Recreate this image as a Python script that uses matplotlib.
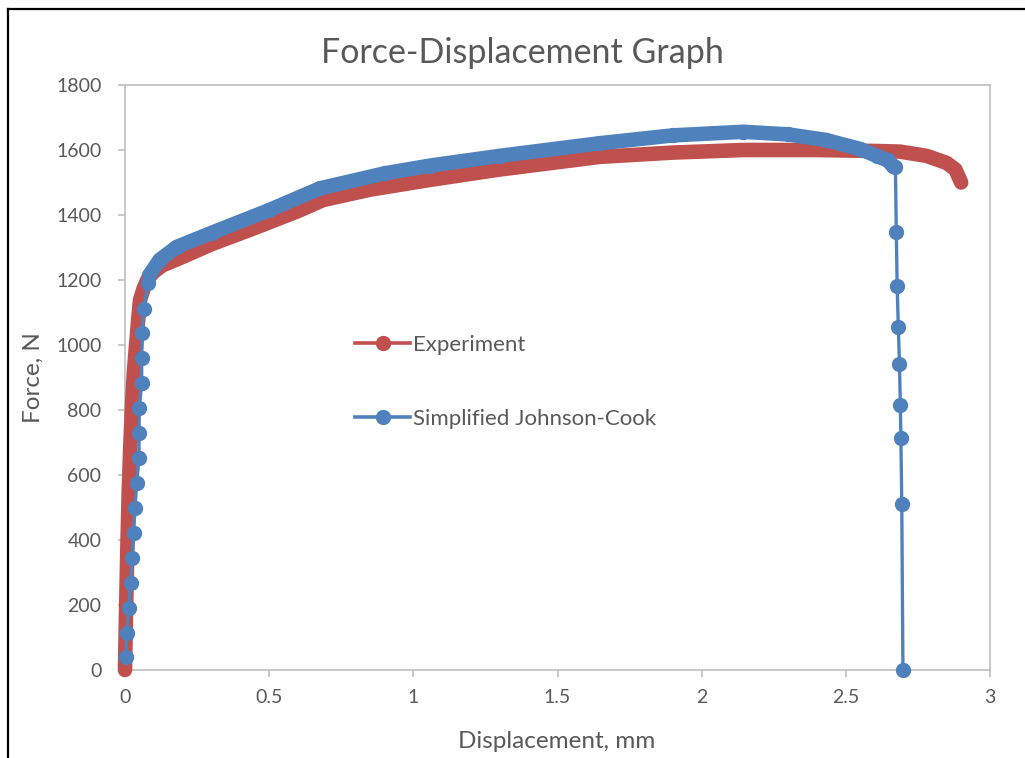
import matplotlib
matplotlib.use("Agg")
import matplotlib.pyplot as plt
from matplotlib.lines import Line2D

# ---- data ----
exp_x = [0, 0.003, 0.008, 0.013, 0.018, 0.025, 0.031, 0.037, 0.045, 0.052, 0.065, 0.08,
         0.1, 0.13, 0.2, 0.3, 0.45, 0.6, 0.687, 0.85, 1.058, 1.3, 1.648, 1.9, 2.144,
         2.4, 2.6, 2.688, 2.78, 2.85, 2.88, 2.9]
exp_y = [0, 150, 370, 550, 680, 830, 920, 985, 1070, 1138, 1175, 1205,
         1225, 1245, 1271, 1310, 1360, 1412, 1446, 1478, 1508, 1540, 1579, 1592, 1600,
         1600, 1597, 1595, 1582, 1560, 1540, 1500]

# Simplified Johnson-Cook: elastic part (sparse markers)
jc_el_x = [0.0035, 0.0058, 0.0139, 0.0197, 0.0243, 0.030, 0.0347, 0.0405, 0.0486,
           0.0486, 0.0497, 0.0578, 0.0578, 0.0601, 0.0647, 0.081, 0.0844]
jc_el_y = [40, 114, 191, 268, 345, 422, 498, 575, 652, 729, 806, 883, 960, 1037,
           1111, 1191, 1215]
# plastic part (dense markers -> thick band)
jc_pl_x = [0.0844, 0.12, 0.18, 0.3, 0.5, 0.676, 0.9, 1.058, 1.3, 1.648, 1.9, 2.144,
           2.3, 2.43, 2.55, 2.607, 2.645, 2.664]
jc_pl_y = [1215, 1262, 1302, 1345, 1415, 1482, 1528, 1552, 1582, 1621, 1645, 1656,
           1648, 1631, 1603, 1582, 1568, 1550]
# failure drop (sparse markers)
jc_dr_x = [2.672, 2.675, 2.678, 2.682, 2.686, 2.689, 2.691, 2.694, 2.698]
jc_dr_y = [1548, 1348, 1182, 1055, 942, 815, 714, 511, 0]

x_ticks = [0, 0.5, 1, 1.5, 2, 2.5, 3]
x_tick_labels = ["0", "0.5", "1", "1.5", "2", "2.5", "3"]
y_ticks = list(range(0, 1801, 200))

RED = "#C0504D"
BLUE = "#4F81BD"
TXT = "#595959"
AX = "#BFBFBF"
FONT = "Lato"

plt.rcParams['font.family'] = [FONT, 'DejaVu Sans']

fig = plt.figure(figsize=(10.25, 7.58), dpi=100)
W, H = 1025, 758
ax = fig.add_axes([125 / W, 1 - 670 / H, (990 - 125) / W, (670 - 85) / H])

# experiment: dense data -> thick band
ax.plot(exp_x, exp_y, color=RED, lw=10.5, solid_capstyle='round',
        solid_joinstyle='round', clip_on=False, zorder=3)

# JC full series with thin line + markers
jc_x = jc_el_x + jc_pl_x[1:] + jc_dr_x
jc_y = jc_el_y + jc_pl_y[1:] + jc_dr_y
ax.plot(jc_x, jc_y, color=BLUE, lw=2.4, marker='o', ms=10, mec=BLUE, mfc=BLUE,
        clip_on=False, zorder=4)
ax.plot(jc_pl_x + [jc_dr_x[0]], jc_pl_y + [jc_dr_y[0]], color=BLUE, lw=10.5,
        solid_capstyle='round', solid_joinstyle='round', zorder=4)

ax.set_xlim(0, 3)
ax.set_ylim(0, 1800)
ax.set_xticks(x_ticks)
ax.set_xticklabels(x_tick_labels)
ax.set_yticks(y_ticks)

for s in ax.spines.values():
    s.set_color(AX)
    s.set_linewidth(1.2)
ax.tick_params(axis='both', colors=AX, labelcolor=TXT, labelsize=14,
               direction='out', length=5, width=1.2)
ax.tick_params(axis='y', pad=12)
ax.tick_params(axis='x', pad=9)

fig.text(522 / W, 1 - 53 / H, "Force-Displacement Graph", fontsize=24.5,
         color=TXT, ha='center', va='center')
fig.text(557 / W, 1 - 742 / H, "Displacement, mm", fontsize=17.5, color=TXT,
         ha='center', va='center')
fig.text(33 / W, 1 - 378 / H, "Force, N", fontsize=17.5, color=TXT,
         ha='center', va='center', rotation=90)

handles = [Line2D([], [], color=RED, lw=2.6, marker='o', ms=10),
           Line2D([], [], color=BLUE, lw=2.6, marker='o', ms=10)]
leg = ax.legend(handles, ["Experiment", "Simplified Johnson-Cook"],
                loc='center left', bbox_to_anchor=(355 / W, 1 - 382 / H),
                bbox_transform=fig.transFigure, frameon=False, fontsize=16,
                handlelength=2.48, handletextpad=0.12, labelspacing=2.45,
                borderpad=0, borderaxespad=0)
for t in leg.get_texts():
    t.set_color(TXT)

# outer black frame (partially visible)
fig.add_artist(Line2D([8 / W, 8 / W], [0, 1 - 9 / H], color='black', lw=1.6,
                      transform=fig.transFigure))
fig.add_artist(Line2D([8 / W, 1], [1 - 9 / H, 1 - 9 / H], color='black', lw=1.6,
                      transform=fig.transFigure))

fig.savefig("out.png", dpi=100, facecolor='white')
